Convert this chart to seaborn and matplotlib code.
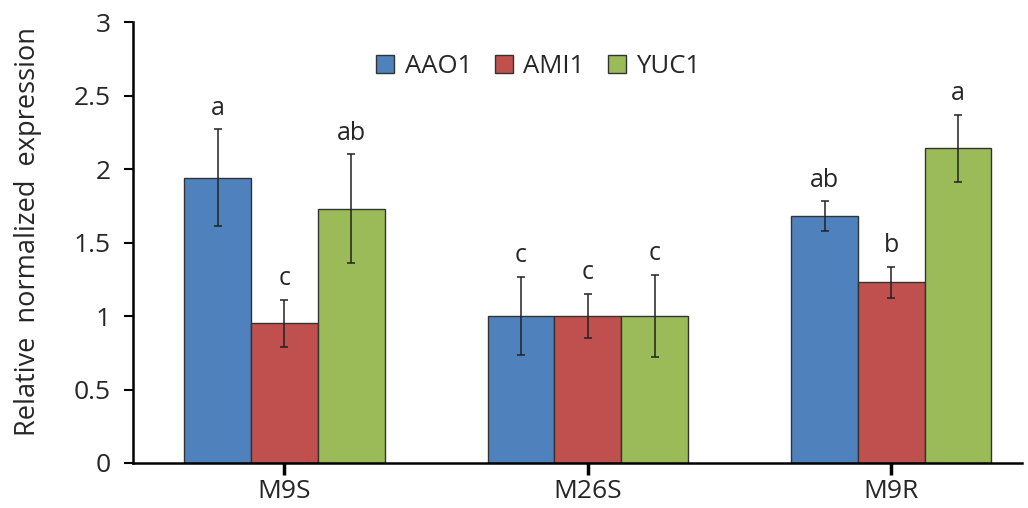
import matplotlib
matplotlib.use("Agg")
import matplotlib.pyplot as plt
import seaborn as sns
import pandas as pd

# datos
rootstocks = ["M9S", "M26S", "M9R"]
genes = ["AAO1", "AMI1", "YUC1"]
aao1 = [1.94, 1.00, 1.68]
ami1 = [0.95, 1.00, 1.23]
yuc1 = [1.73, 1.00, 2.14]
aao1_err = [0.33, 0.265, 0.10]
ami1_err = [0.16, 0.15, 0.105]
yuc1_err = [0.37, 0.28, 0.23]
aao1_lbl = ["a", "c", "ab"]
ami1_lbl = ["c", "c", "b"]
yuc1_lbl = ["ab", "c", "a"]

df = pd.DataFrame({
    "Rootstock": rootstocks * 3,
    "Gene": [g for g in genes for _ in rootstocks],
    "Expr": aao1 + ami1 + yuc1,
})
errs = [aao1_err, ami1_err, yuc1_err]
lbls = [aao1_lbl, ami1_lbl, yuc1_lbl]

sns.set_style("white")
plt.rcParams["font.family"] = ["Open Sans", "DejaVu Sans"]

fig = plt.figure(figsize=(10.28, 5.08), dpi=100)
ax = fig.add_axes([0.129, 0.0886, 0.865, 0.868])

colors = ["#4F81BD", "#C0504D", "#9BBB59"]
sns.barplot(data=df, x="Rootstock", y="Expr", hue="Gene", palette=colors,
            width=0.66, gap=0, edgecolor="#333333", linewidth=1.0,
            saturation=1, errorbar=None, ax=ax)

# barras de error y letras
for cont, e, lab in zip(ax.containers, errs, lbls):
    xs = [p.get_x() + p.get_width() / 2 for p in cont.patches]
    ys = [p.get_height() for p in cont.patches]
    ax.errorbar(xs, ys, yerr=e, fmt="none", ecolor="#222222",
                elinewidth=1.1, capsize=3, capthick=1.1)
    for x, y, err, t in zip(xs, ys, e, lab):
        ax.text(x, y + err + 0.06, t, ha="center", va="bottom", fontsize=18)

ax.set_ylim(0, 3)
ax.set_xlim(-0.5, 2.43)
ax.set_yticks([0, 0.5, 1, 1.5, 2, 2.5, 3])
ax.set_yticklabels(["0", "0.5", "1", "1.5", "2", "2.5", "3"])
ax.set_xlabel("")
ax.set_ylabel("Relative  normalized  expression", fontsize=19.5)
ax.yaxis.set_label_coords(-0.102, 0.526)
ax.tick_params(axis="y", direction="out", length=6.5, width=1.5,
               labelsize=19, color="black", left=True, pad=9)
ax.tick_params(axis="x", direction="out", length=8.5, width=2.5,
               labelsize=19, color="black", bottom=True, pad=3)

sns.despine(ax=ax)
for s in ["left", "bottom"]:
    ax.spines[s].set_linewidth(1.8)
    ax.spines[s].set_color("black")

ax.legend(title=None, ncol=3, frameon=False, loc="center",
          bbox_to_anchor=(0.456, 0.90), fontsize=18.5, handlelength=0.7,
          handleheight=0.7, handletextpad=0.4, columnspacing=0.9)

fig.savefig("out.png", dpi=100)
